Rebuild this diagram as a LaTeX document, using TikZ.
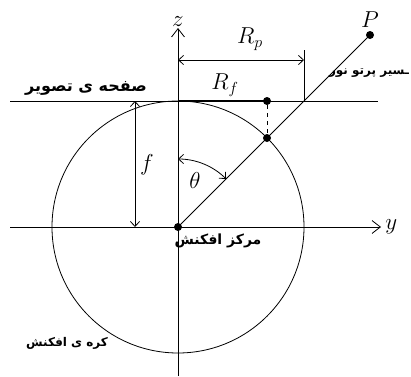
\documentclass[tikz,border=0pt]{standalone}
\usepackage{fontspec}
\newfontfamily\farsi[Script=Arabic]{DejaVu Sans}
\TeXXeTstate=1
\usetikzlibrary{arrows.meta, positioning}
\newcommand{\rw}[1]{\beginR #1\endR}
\newcommand{\fasize}[1]{\fontsize{#1}{#1}\selectfont}

\begin{document}
\begin{tikzpicture}[x=0.75pt,y=0.75pt,line width=0.6pt,
      axis/.style={-{Straight Barb[length=2.2mm,width=3.4mm]}},
      dim/.style={{Straight Barb[length=1.3mm,width=2.4mm]}-{Straight Barb[length=1.3mm,width=2.4mm]}},
      dot/.style={circle,fill,inner sep=0pt,minimum size=6pt},
      lbl/.style={font=\LARGE,inner sep=1pt},
      fa/.style={font=\farsi\bfseries\fasize{#1},inner sep=1pt},
      fa/.default=12pt]

    \useasboundingbox (0,0) rectangle (411,376);

    % points
    \node[dot] (O) at (178,149) {};
    \node[dot] (S) at (267,238) {};
    \node[dot] (F) at (267,275) {};
    \node[dot] (P) at (370,341) {};
    \coordinate (X)  at (304,275);
    \coordinate (T)  at (304,326);
    \coordinate (pl) at (10,275);
    \coordinate (pr) at (378,275);
    \coordinate (yl) at (10,149);
    \coordinate (yr) at (381,149);
    \coordinate (zb) at (178,0);
    \coordinate (zt) at (178,348);

    % sphere, axes and image plane
    \draw (O.center) circle[radius=126];
    \draw[axis] (yl) -- (yr);
    \draw[axis] (zb) -- (zt);
    \draw (pl) -- (pr);
    \draw[line width=2pt] (O.center |- pl) -- (F.center);
    \draw[dashed] (F) -- (S);
    \draw (O.center) -- (P.center);
    \draw (X) -- (T);

    % dimensions
    \draw[dim] (O.center |- T) ++(0,-10) coordinate (rp1) -- (rp1 -| X);
    \draw[dim] (135,275) coordinate (f1) -- (f1 |- O);
    \draw[dim] ([shift={(90:68)}]O.center) arc[start angle=90,end angle=45,radius=68];

    % labels
    \node[lbl, above=0pt of zt] (zl) {$z$};
    \node[lbl, right=2pt of yr] (yy) {$y$};
    \node[lbl, above=1pt of P]  (pp) {$P$};
    \node[lbl] (rp) at (250,337) {$R_p$};
    \node[lbl] (rf) at (225,291) {$R_f$};
    \node[lbl] (ff) at (147,211) {$f$};
    \node[lbl] (th) at (195,196) {$\theta$};

    \node[fa] (plane)  at (86,288)  {\rw{تصویر} \rw{ی} \rw{صفحه}};
    \node[fa=9pt] (ray) at (369,303) {\rw{نور} \rw{پرتو} \rw{ـسیر}};
    \node[fa=10.5pt] (centre) at (218,135) {\rw{افکنش} \rw{مرکز}};
    \node[fa=9pt] (sphere) at (67,33)   {\rw{افکنش} \rw{ی} \rw{کره}};
  \end{tikzpicture}
\end{document}
